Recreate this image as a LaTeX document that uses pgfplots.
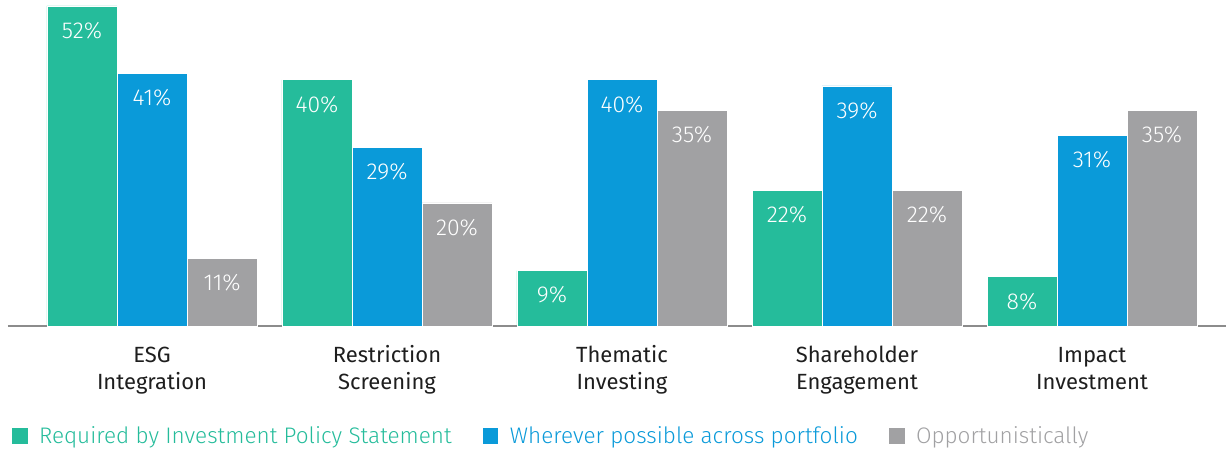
\documentclass[border=0pt]{standalone}
\usepackage{fontspec}
\setmainfont{Fira Sans}
\newfontfamily\lightfont{Fira Sans Light}
\usepackage{pgfplots}
\pgfplotsset{compat=1.18}
\definecolor{cgreen}{HTML}{25BC9B}
\definecolor{cblue}{HTML}{0A9AD9}
\definecolor{cgray}{HTML}{A1A1A3}
\definecolor{caxis}{HTML}{8C8C8C}
\definecolor{ctext}{HTML}{1E1E1E}
\begin{document}
\begin{tikzpicture}
\begin{axis}[
  scale only axis, width=1218pt, height=326pt,
  xmin=-0.6128, xmax=4.5702, ymin=0, ymax=52.97,
  axis x line=bottom, axis y line=none,
  x axis line style={-, caxis, line width=1.5pt},
  xtick={0,1,2,3,4},
  xticklabels={ESG\strut\\Integration\strut, Restriction\strut\\Screening\strut, Thematic\strut\\Investing\strut, Shareholder\strut\\Engagement\strut, Impact\strut\\Investment\strut},
  x tick label style={align=center, font=\fontsize{22}{27}\selectfont, text=ctext, anchor=north, yshift=-14.5pt},
  major tick length=0pt, ytick=\empty,
  ybar, bar width=0.2979,
  clip=false,
  nodes near coords={\pgfmathprintnumber[assume math mode=true]{\pgfplotspointmeta}\%},
  every node near coord/.append style={anchor=center, yshift=-24.5pt, text=white, font=\lightfont\fontsize{23}{24}\selectfont},
  legend columns=3,
  legend style={at={(0.003,-0.3365)}, anchor=west, draw=none, fill=none, inner sep=0pt,
    font=\lightfont\fontsize{22.5}{24}\selectfont, cells={anchor=west},
    nodes={inner xsep=0pt, inner ysep=0pt, text height=15.5pt, text depth=0pt},
    /tikz/every odd column/.append style={column sep=11.5pt},
    /tikz/every even column/.append style={column sep=31pt}},
  legend image code/.code={\fill[#1, draw=none] (0pt,-7.8pt) rectangle (15.7pt,7.8pt);},
]
\addplot[fill=cgreen, draw=white, line width=0.8pt, bar shift=-0.2979] coordinates {(0,52) (1,40) (2,9) (3,22) (4,8)};
\addplot[fill=cblue, draw=white, line width=0.8pt, bar shift=0] coordinates {(0,41) (1,29) (2,40) (3,39) (4,31)};
\addplot[fill=cgray, draw=white, line width=0.8pt, bar shift=0.2979] coordinates {(0,11) (1,20) (2,35) (3,22) (4,35)};
\legend{\textcolor{cgreen}{Required by Investment Policy Statement}, \textcolor{cblue}{Wherever possible across portfolio}, \textcolor{cgray}{Opportunistically}}
\coordinate (bl) at (axis description cs:-0.006568,-0.38037);
\coordinate (tr) at (axis description cs:1,1);
\end{axis}
\pgfresetboundingbox
\path[use as bounding box] (bl) rectangle (tr);
\end{tikzpicture}
\end{document}
